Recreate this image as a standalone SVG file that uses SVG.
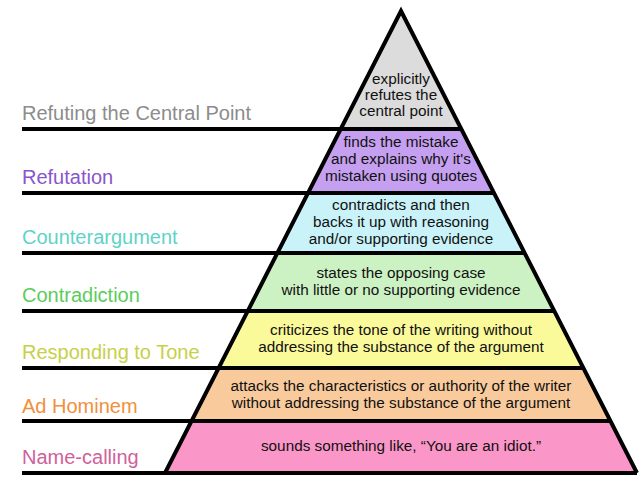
<svg xmlns="http://www.w3.org/2000/svg" width="639" height="494" viewBox="0 0 639 494">
<style>
.lbl{font-family:"Liberation Sans",Arial,sans-serif;font-size:20px}
.t{font-family:"Liberation Sans",Arial,sans-serif;font-size:15.3px;fill:#111;text-anchor:middle}
.band{stroke:none}
.ln{stroke:#000;stroke-width:4;fill:none;stroke-linecap:butt}
</style>
<rect width="639" height="494" fill="#fff"/>
<g id="level7-central">
<polygon class="band" points="401,11 340.7,129 461.3,129" fill="#dcdcdc"/>
<text class="t" x="401" y="84">explicitly</text>
<text class="t" x="401" y="100">refutes the</text>
<text class="t" x="401" y="116">central point</text>
<text class="lbl" x="22" y="120" fill="#8c8c8c">Refuting the Central Point</text>
</g>
<g id="level6-refutation">
<polygon class="band" points="340.7,129 461.3,129 494,193 308,193" fill="#c6a0f0"/>
<text class="t" x="401" y="147">finds the mistake</text>
<text class="t" x="401" y="164">and explains why it's</text>
<text class="t" x="401" y="181">mistaken using quotes</text>
<text class="lbl" x="22" y="184" fill="#8a55cc">Refutation</text>
</g>
<g id="level5-counterargument">
<polygon class="band" points="308,193 494,193 524.6,253 277.4,253" fill="#c9f3f9"/>
<text class="t" x="401" y="210">contradicts and then</text>
<text class="t" x="401" y="227">backs it up with reasoning</text>
<text class="t" x="401" y="244">and/or supporting evidence</text>
<text class="lbl" x="22" y="244" fill="#5fd3c8">Counterargument</text>
</g>
<g id="level4-contradiction">
<polygon class="band" points="277.4,253 524.6,253 554.2,311 247.8,311" fill="#ccf2c4"/>
<text class="t" x="401" y="278">states the opposing case</text>
<text class="t" x="401" y="295">with little or no supporting evidence</text>
<text class="lbl" x="22" y="302" fill="#5ccc5c">Contradiction</text>
</g>
<g id="level3-tone">
<polygon class="band" points="247.8,311 554.2,311 583.4,368 218.6,368" fill="#fafa9a"/>
<text class="t" x="401" y="335">criticizes the tone of the writing without</text>
<text class="t" x="401" y="352">addressing the substance of the argument</text>
<text class="lbl" x="22" y="359" fill="#c8d048">Responding to Tone</text>
</g>
<g id="level2-adhominem">
<polygon class="band" points="218.6,368 583.4,368 610.4,421 191.6,421" fill="#f9cb9c"/>
<text class="t" x="401" y="391">attacks the characteristics or authority of the writer</text>
<text class="t" x="401" y="408">without addressing the substance of the argument</text>
<text class="lbl" x="22" y="413" fill="#f0903c">Ad Hominem</text>
</g>
<g id="level1-namecalling">
<polygon class="band" points="191.6,421 610.4,421 637,473 165,473" fill="#fb97c8"/>
<text class="t" x="401" y="451">sounds something like, “You are an idiot.”</text>
<text class="lbl" x="22" y="464" fill="#d0609c">Name-calling</text>
</g>
<g id="connectors">
<polyline class="ln" points="165,473 401,11 637,473" stroke-linejoin="miter"/>
<line class="ln" x1="22" y1="129" x2="461.3" y2="129"/>
<line class="ln" x1="22" y1="193" x2="494" y2="193"/>
<line class="ln" x1="22" y1="253" x2="524.6" y2="253"/>
<line class="ln" x1="22" y1="311" x2="554.2" y2="311"/>
<line class="ln" x1="22" y1="368" x2="583.4" y2="368"/>
<line class="ln" x1="22" y1="421" x2="610.4" y2="421"/>
<line class="ln" x1="22" y1="473" x2="637" y2="473"/>
</g>
</svg>
